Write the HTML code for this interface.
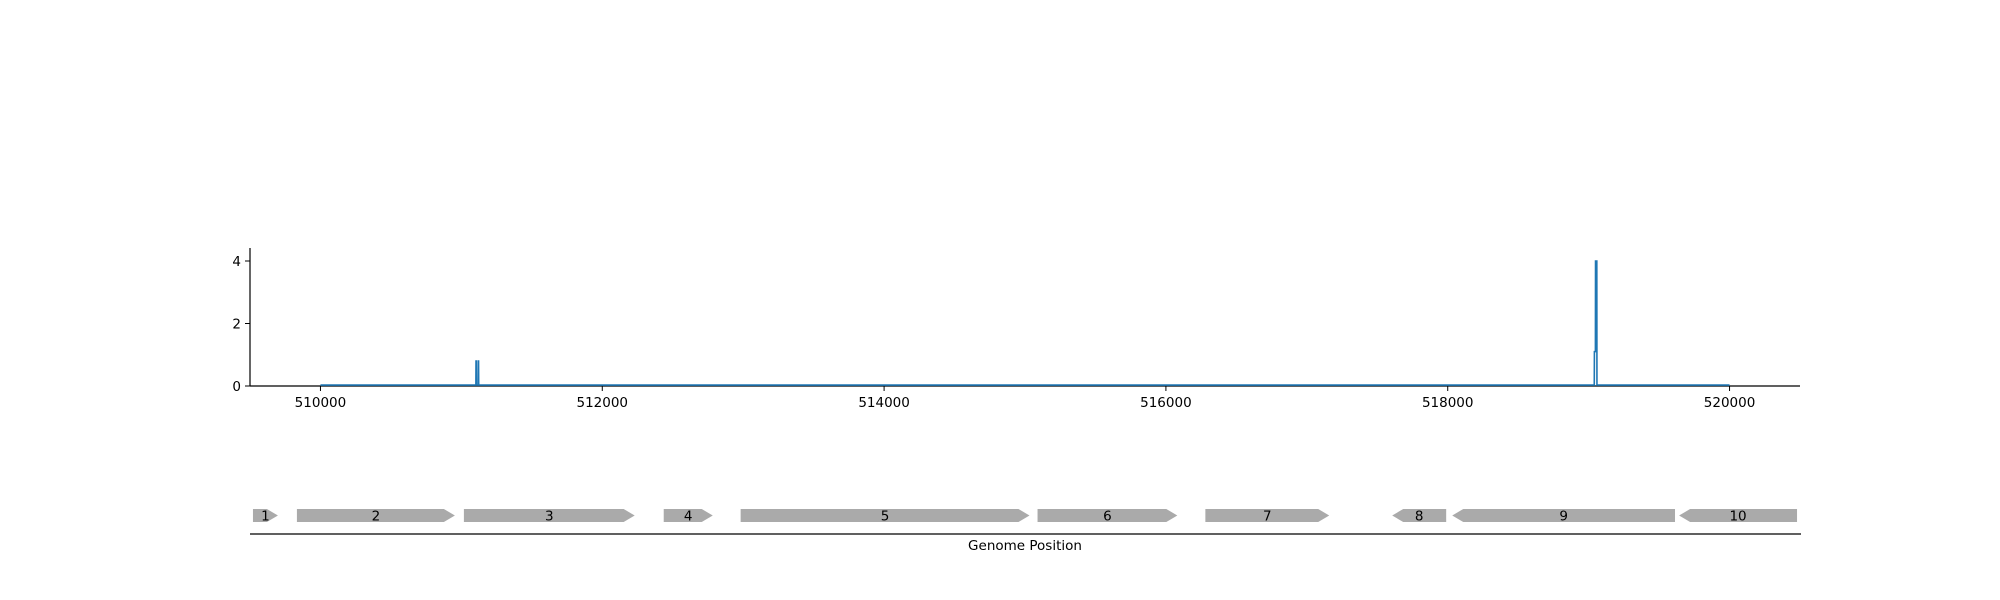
<!DOCTYPE html>
<html><head><meta charset="utf-8"><style>
html,body{margin:0;padding:0;background:#fff;}
svg{display:block;font-family:"DejaVu Sans","Liberation Sans",sans-serif;}
</style></head><body>
<svg id="chart" width="2000" height="600" viewBox="0 0 2000 600">
<g id="cov"></g>
<g id="genes"></g>
</svg>
<script>
const xTicks = [510000, 512000, 514000, 516000, 518000, 520000];
const yTicks = [0, 2, 4];
const covPos = [510000, 511103, 511104, 511106, 511107, 511119, 511120, 511122, 511123, 519040, 519041, 519048, 519049, 519058, 519059, 520000];
const covVal = [0.03, 0.03, 0.8, 0.8, 0.03, 0.03, 0.8, 0.8, 0.03, 0.03, 1.1, 1.1, 4.0, 4.0, 0.03, 0.03];
const geneNames = ["1","2","3","4","5","6","7","8","9","10"];
const geneStart = [509521, 509833, 511018, 512436, 512982, 515089, 516280, 517606, 518032, 519642];
const geneEnd = [509698, 510954, 512230, 512784, 515032, 516081, 517159, 517989, 519613, 520479];
const geneStrand = [1, 1, 1, 1, 1, 1, 1, -1, -1, -1];

const NS = "http://www.w3.org/2000/svg";
const X0 = 250, X1 = 1800, XMIN = 509500, XMAX = 520500;
const Y0 = 386, YTOP = 248, YPER = 31.25;
function xs(v){ return X0 + (v - XMIN) * (X1 - X0) / (XMAX - XMIN); }
function ys(v){ return Y0 - v * YPER; }
function mk(tag, attrs, parent){ const e = document.createElementNS(NS, tag); for (const k in attrs) e.setAttribute(k, attrs[k]); parent.appendChild(e); return e; }

const cov = document.getElementById('cov');
const genes = document.getElementById('genes');

let ax = mk('line', {x1:X0, y1:YTOP, x2:X0, y2:Y0+0.5, stroke:'#000', 'stroke-width':1.2}, cov);


let bx = mk('line', {x1:X0, y1:Y0, x2:X1, y2:Y0, stroke:'#000', 'stroke-width':1.2}, cov);



xTicks.forEach(t => {
  const tk = mk('line', {x1:xs(t), y1:Y0, x2:xs(t), y2:Y0+5, stroke:'#000', 'stroke-width':1}, cov);
  
  
  const lb = mk('text', {x:xs(t), y:Y0+21, 'text-anchor':'middle', 'font-size':13.5, fill:'#000'}, cov);
  lb.textContent = t;
  
  
});
yTicks.forEach(t => {
  const tk = mk('line', {x1:X0-5, y1:ys(t), x2:X0, y2:ys(t), stroke:'#000', 'stroke-width':1}, cov);
  
  
  const lb = mk('text', {x:X0-9, y:ys(t)+5, 'text-anchor':'end', 'font-size':13.5, fill:'#000'}, cov);
  lb.textContent = t;
  
  
});

let d = '';
covPos.forEach((p, i) => { d += (i ? 'L' : 'M') + xs(p).toFixed(2) + ',' + ys(covVal[i]).toFixed(2); });
const ln = mk('path', {d:d, fill:'none', stroke:'#1f77b4', 'stroke-width':1.6}, cov);



const GY = 509, GH = 13, AH = 11;
geneNames.forEach((n, i) => {
  const a = xs(geneStart[i]), b = xs(geneEnd[i]);
  const mid = GY + GH/2;
  let pts;
  if (geneStrand[i] > 0) {
    const c = Math.max(a, b - AH);
    pts = `${a},${GY} ${c},${GY} ${b},${mid} ${c},${GY+GH} ${a},${GY+GH}`;
  } else {
    const c = Math.min(b, a + AH);
    pts = `${a},${mid} ${c},${GY} ${b},${GY} ${b},${GY+GH} ${c},${GY+GH}`;
  }
  const g = mk('polygon', {points:pts, fill:'#aaaaaa'}, genes);
  
  
  const lb = mk('text', {x:(a+b)/2, y:mid+5, 'text-anchor':'middle', 'font-size':13.5, fill:'#000'}, genes);
  lb.textContent = n;
  
  
});
const gl = mk('line', {x1:X0, y1:534, x2:X1+1, y2:534, stroke:'#000', 'stroke-width':1.2}, genes);


const xt = mk('text', {x:(X0+X1)/2, y:550, 'text-anchor':'middle', 'font-size':13.5, fill:'#000'}, genes);
xt.textContent = 'Genome Position';


</script>
</body></html>
